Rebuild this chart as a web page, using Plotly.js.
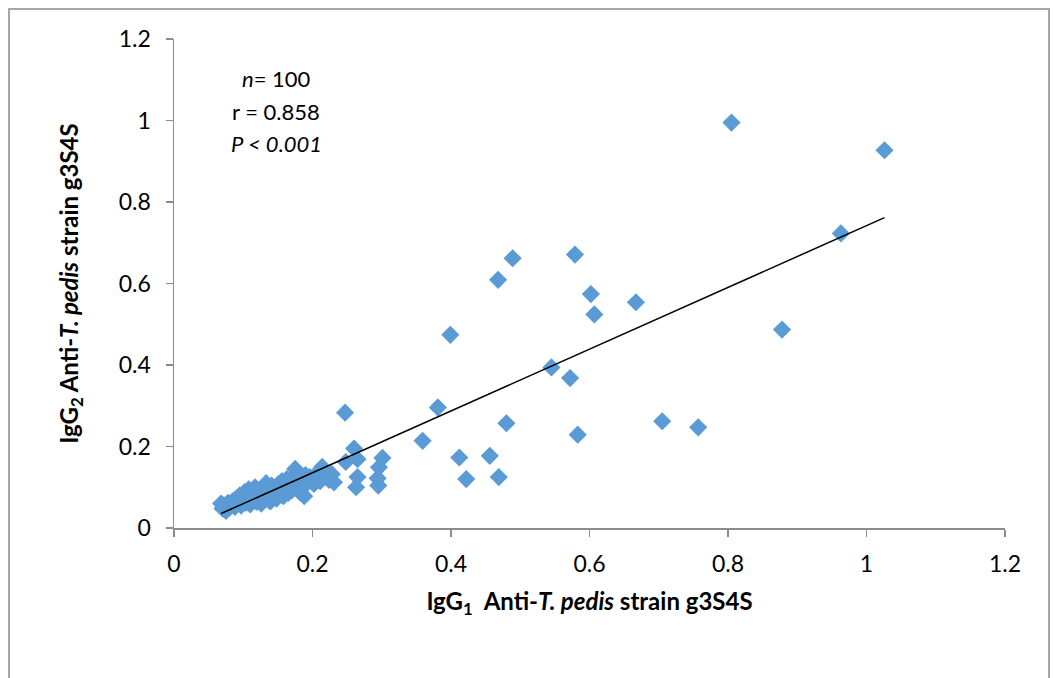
<!DOCTYPE html>
<html>
<head>
<meta charset="utf-8">
<script src="https://cdn.plot.ly/plotly-3.0.1.min.js"></script>
<style>
html,body{margin:0;padding:0;background:#fff;}
#wrap{position:relative;width:1054px;height:678px;overflow:hidden;}
#chart{width:1054px;height:678px;}
#frame{position:absolute;left:8px;top:8px;width:1042px;height:700px;border:2px solid #a6a6a6;box-sizing:border-box;pointer-events:none;}
</style>
</head>
<body>
<div id="wrap"><div id="chart"></div><div id="frame"></div></div>
<script>
// IgG1 (x) values
const igg1 = [
  0.805,1.026,0.963,0.878,0.705,0.757,0.489,0.579,0.468,0.602,
  0.607,0.667,0.399,0.545,0.572,0.247,0.381,0.480,0.583,0.359,
  0.412,0.456,0.422,0.469,0.260,0.301,0.248,0.265,0.296,0.265,
  0.263,0.294,0.295,0.231,
  0.068,0.070,0.072,0.075,0.078,0.080,0.083,0.085,0.088,0.090,
  0.092,0.095,0.097,0.100,0.102,0.104,0.106,0.108,0.110,0.112,
  0.115,0.117,0.119,0.121,0.124,0.126,0.128,0.130,0.133,0.135,
  0.137,0.139,0.141,0.144,0.146,0.148,0.151,0.153,0.156,0.158,
  0.160,0.163,0.165,0.168,0.170,0.173,0.175,0.177,0.180,0.182,
  0.185,0.188,0.190,0.193,0.196,0.199,0.202,0.205,0.208,0.211,
  0.214,0.217,0.220,0.224,0.228,0.188
];
// IgG2 (y) values
const igg2 = [
  0.995,0.927,0.723,0.487,0.262,0.247,0.662,0.671,0.609,0.574,
  0.524,0.554,0.474,0.394,0.368,0.283,0.296,0.257,0.229,0.214,
  0.173,0.177,0.120,0.125,0.195,0.172,0.162,0.169,0.149,0.125,
  0.100,0.122,0.104,0.112,
  0.060,0.048,0.055,0.042,0.062,0.050,0.058,0.066,0.052,0.072,
  0.060,0.080,0.055,0.068,0.088,0.062,0.075,0.095,0.058,0.082,
  0.070,0.100,0.064,0.090,0.078,0.060,0.098,0.085,0.110,0.072,
  0.092,0.065,0.104,0.082,0.095,0.072,0.108,0.088,0.115,0.078,
  0.098,0.120,0.086,0.105,0.092,0.128,0.145,0.100,0.115,0.088,
  0.122,0.105,0.130,0.112,0.125,0.118,0.108,0.132,0.120,0.115,
  0.150,0.138,0.125,0.118,0.132,0.078
];
// Linear trendline
const trendSlope = 0.758;
const trendIntercept = -0.016;
const xTicks = [0,0.2,0.4,0.6,0.8,1,1.2];
const yTicks = [0,0.2,0.4,0.6,0.8,1,1.2];
const statLines = ["<i>n</i>= 100", "r = 0.858", "<i>P &lt; 0.001</i>"];

const xMin = Math.min(...igg1), xMax = Math.max(...igg1);
const trendX = [xMin, xMax];
const trendY = trendX.map(v => trendSlope*v + trendIntercept);

const font = "Lato, 'Open Sans', 'Liberation Sans', sans-serif";

const traces = [
  {
    x: igg1, y: igg2, type: 'scatter', mode: 'markers',
    marker: {symbol: 'diamond', size: 14, color: '#5b9bd5', line: {width: 0}},
    hoverinfo: 'x+y', showlegend: false
  },
  {
    x: trendX, y: trendY, type: 'scatter', mode: 'lines',
    line: {color: '#000000', width: 1.5},
    hoverinfo: 'skip', showlegend: false
  }
];

const layout = {
  width: 1054, height: 678,
  margin: {l: 174, r: 49, t: 39, b: 150},
  paper_bgcolor: '#ffffff', plot_bgcolor: '#ffffff',
  font: {family: font, size: 22, color: '#000'},
  showlegend: false,
  xaxis: {
    range: [0, 1.2], tickvals: xTicks, ticktext: xTicks.map(String),
    showgrid: false, zeroline: false, showline: true, linecolor: '#8c8c8c', linewidth: 1.5,
    ticks: 'outside', ticklen: 7, tickcolor: '#8c8c8c', tickwidth: 1.5,
    ticklabelstandoff: 8,
    tickfont: {family: font, size: 23, color: '#000'},
    title: {text: '<b>IgG<sub>1</sub>  Anti-<i>T. pedis</i> strain g3S4S</b>', font: {family: font, size: 24, color: '#000'}, standoff: 17}
  },
  yaxis: {
    range: [0, 1.2], tickvals: yTicks, ticktext: yTicks.map(String),
    showgrid: false, zeroline: false, showline: true, linecolor: '#8c8c8c', linewidth: 1.5,
    ticks: 'outside', ticklen: 7, tickcolor: '#8c8c8c', tickwidth: 1.5,
    ticklabelstandoff: 10,
    tickfont: {family: font, size: 23, color: '#000'},
    title: {text: '<b>IgG<sub>2</sub> Anti-<i>T. pedis</i> strain g3S4S</b>', font: {family: font, size: 24, color: '#000'}, standoff: 33}
  },
  annotations: statLines.map((t, i) => ({
    xref: 'x', yref: 'y', x: 0.148, y: 1.102 - i*0.079,
    text: t, showarrow: false, xanchor: 'center', yanchor: 'middle',
    font: {family: font, size: 22, color: '#000'}
  }))
};

Plotly.newPlot('chart', traces, layout, {displayModeBar: false, staticPlot: true});
</script>
</body>
</html>
